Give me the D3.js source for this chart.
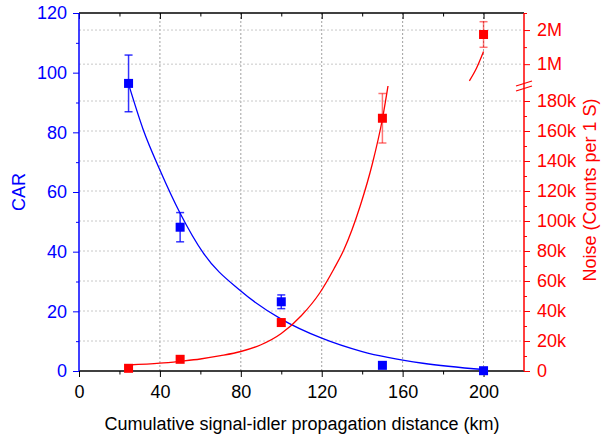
<!DOCTYPE html>
<html>
<head>
<meta charset="utf-8">
<script src="https://cdn.jsdelivr.net/npm/d3@7"></script>
<style>
  body { margin: 0; background: #fff; }
  svg { font-family: "Liberation Sans", Arial, sans-serif; }
</style>
</head>
<body>
<div id="chart"></div>
<script>
// measured points
const distance = [24.5, 50, 100, 150, 200];
const carValues = [96.4, 48.2, 23.2, 1.9, 0.1];
const carErrors = [9.5, 4.9, 2.3, 0, 0];
const noiseValues = [1800, 7800, 32300, 168500, 1870000];
const noiseErrors = [0, 0, 0, 16500, 375000];

// fit curves
const carFitX = [24.4, 31.8, 40, 50, 61.5, 80, 100, 120, 140, 170, 200];
const carFitY = [96.4, 80.8, 67.4, 52.9, 39.5, 26.8, 17.4, 11.0, 6.5, 2.6, 0.5];
const noiseFitX = [24.4, 40, 50, 60, 70, 80, 90, 100, 110, 119, 126, 131, 139, 145, 150, 153];
const noiseFitY = [4000, 5200, 6500, 8000, 10200, 13000, 17500, 25000, 37000, 52000, 68000, 81000, 110000, 138000, 168000, 192000];
const noiseFitUpperX = [193, 196.5, 200];
const noiseFitUpperY = [510000, 880000, 1370000];

// ticks
const xTicks = [0, 40, 80, 120, 160, 200];
const xMinor = [20, 60, 100, 140, 180];
const carTicks = [0, 20, 40, 60, 80, 100, 120];
const carMinor = [10, 30, 50, 70, 90, 110];
const noiseLowTicks = [0, 20000, 40000, 60000, 80000, 100000, 120000, 140000, 160000, 180000];
const noiseLowMinor = [10000, 30000, 50000, 70000, 90000, 110000, 130000, 150000, 170000];
const noiseHighTicks = [1000000, 2000000];
const noiseHighMinor = [1500000, 2500000];

const width = 602, height = 440;
const pLeft = 79, pRight = 524, pTop = 13, pBottom = 371, breakY = 86;
const blue = '#0000ff', red = '#ff0000';
const fontSize = '18px';

const svg = d3.select('#chart').append('svg')
    .attr('width', width)
    .attr('height', height);

const x = d3.scaleLinear().domain([0, 220]).range([pLeft, pRight]);
const yCar = d3.scaleLinear().domain([0, 120]).range([pBottom, pTop]);
const yLow = d3.scaleLinear().domain([0, 190000]).range([pBottom, breakY]);
const yHigh = d3.scaleLinear().domain([360000, 2500000]).range([breakY, pTop]);
const yNoise = v => v <= 190000 ? yLow(v) : yHigh(v);

// grid
svg.append('g').selectAll('line')
    .data(xTicks.slice(1))
    .enter().append('line')
    .attr('x1', d => x(d)).attr('x2', d => x(d))
    .attr('y1', pTop).attr('y2', pBottom)
    .attr('stroke', '#a0a0a0')
    .attr('stroke-dasharray', '2,2');

svg.append('g').selectAll('line')
    .data(noiseLowTicks.slice(1).map(yLow).concat(noiseHighTicks.map(yHigh)))
    .enter().append('line')
    .attr('x1', pLeft).attr('x2', pRight)
    .attr('y1', d => d).attr('y2', d => d)
    .attr('stroke', '#c8c8c8')
    .attr('stroke-dasharray', '2,2');

// fit lines
const clipLow = svg.append('clipPath').attr('id', 'clipLow');
clipLow.append('rect').attr('x', pLeft).attr('y', breakY).attr('width', pRight - pLeft).attr('height', pBottom - breakY);

svg.append('path')
    .datum(carFitX.map((d, i) => [d, carFitY[i]]))
    .attr('fill', 'none')
    .attr('stroke', blue)
    .attr('stroke-width', 1.3)
    .attr('d', d3.line().x(d => x(d[0])).y(d => yCar(d[1])).curve(d3.curveMonotoneX));

svg.append('path')
    .datum(noiseFitX.map((d, i) => [d, noiseFitY[i]]))
    .attr('clip-path', 'url(#clipLow)')
    .attr('fill', 'none')
    .attr('stroke', red)
    .attr('stroke-width', 1.3)
    .attr('d', d3.line().x(d => x(d[0])).y(d => yLow(d[1])).curve(d3.curveMonotoneX));

svg.append('path')
    .datum(noiseFitUpperX.map((d, i) => [d, noiseFitUpperY[i]]))
    .attr('fill', 'none')
    .attr('stroke', red)
    .attr('stroke-width', 1.3)
    .attr('d', d3.line().x(d => x(d[0])).y(d => yHigh(d[1])).curve(d3.curveMonotoneX));

// error bars
function errorBars(vals, errs, yf, color, op) {
    const g = svg.append('g')
        .attr('stroke', color)
        .attr('stroke-width', 1.5)
        .attr('stroke-opacity', op);
    vals.forEach((v, i) => {
        if (!errs[i]) return;
        const cx = x(distance[i]);
        const y1 = yf(v + errs[i]), y2 = yf(v - errs[i]);
        g.append('line').attr('x1', cx).attr('x2', cx).attr('y1', y1).attr('y2', y2);
        g.append('line').attr('x1', cx - 4).attr('x2', cx + 4).attr('y1', y1).attr('y2', y1);
        g.append('line').attr('x1', cx - 4).attr('x2', cx + 4).attr('y1', y2).attr('y2', y2);
    });
}
errorBars(carValues, carErrors, yCar, blue, 0.8);
errorBars(noiseValues, noiseErrors, yNoise, red, 0.55);

// axes
function axisStyle(g, color) {
    g.select('.domain').remove();
    g.selectAll('line').attr('stroke', color);
    g.selectAll('text').attr('fill', color).style('font-size', fontSize);
}

svg.append('g').attr('transform', `translate(0,${pBottom})`)
    .call(d3.axisBottom(x).tickValues(xTicks).tickSize(6).tickPadding(8.5))
    .call(g => axisStyle(g, '#000'));
svg.append('g').attr('transform', `translate(0,${pBottom})`)
    .call(d3.axisBottom(x).tickValues(xMinor).tickSize(3.5).tickFormat(''))
    .call(g => axisStyle(g, '#000'));
svg.append('g').attr('transform', `translate(0,${pTop})`)
    .call(d3.axisTop(x).tickValues(xTicks).tickSize(-6).tickFormat(''))
    .call(g => axisStyle(g, '#000'));
svg.append('g').attr('transform', `translate(0,${pTop})`)
    .call(d3.axisTop(x).tickValues(xMinor).tickSize(-3.5).tickFormat(''))
    .call(g => axisStyle(g, '#000'));

svg.append('g').attr('transform', `translate(${pLeft},0)`)
    .call(d3.axisLeft(yCar).tickValues(carTicks).tickSize(6).tickPadding(6))
    .call(g => axisStyle(g, blue));
svg.append('g').attr('transform', `translate(${pLeft},0)`)
    .call(d3.axisLeft(yCar).tickValues(carMinor).tickSize(3).tickFormat(''))
    .call(g => axisStyle(g, blue));

const kFmt = d => d === 0 ? '0' : (d / 1000) + 'k';
const mFmt = d => (d / 1000000) + 'M';
svg.append('g').attr('transform', `translate(${pRight},0)`)
    .call(d3.axisRight(yLow).tickValues(noiseLowTicks).tickSize(6).tickPadding(7).tickFormat(kFmt))
    .call(g => axisStyle(g, red));
svg.append('g').attr('transform', `translate(${pRight},0)`)
    .call(d3.axisRight(yLow).tickValues(noiseLowMinor).tickSize(3).tickFormat(''))
    .call(g => axisStyle(g, red));
svg.append('g').attr('transform', `translate(${pRight},0)`)
    .call(d3.axisRight(yHigh).tickValues(noiseHighTicks).tickSize(6).tickPadding(7).tickFormat(mFmt))
    .call(g => axisStyle(g, red));
svg.append('g').attr('transform', `translate(${pRight},0)`)
    .call(d3.axisRight(yHigh).tickValues(noiseHighMinor).tickSize(3).tickFormat(''))
    .call(g => axisStyle(g, red));

// axis lines
svg.append('line').attr('x1', pLeft).attr('x2', pRight).attr('y1', pBottom).attr('y2', pBottom)
    .attr('stroke', '#000').attr('stroke-width', 1.5);
svg.append('line').attr('x1', pLeft).attr('x2', pRight).attr('y1', pTop).attr('y2', pTop)
    .attr('stroke', '#000').attr('stroke-width', 1.5);
svg.append('line').attr('x1', pLeft).attr('x2', pLeft).attr('y1', pTop).attr('y2', pBottom)
    .attr('stroke', blue).attr('stroke-width', 1.5);
svg.append('line').attr('x1', pRight).attr('x2', pRight).attr('y1', pTop).attr('y2', pBottom)
    .attr('stroke', red).attr('stroke-width', 1.5);

// axis break marks
[-2.5, 2.5].forEach(off => {
    svg.append('line')
        .attr('x1', pRight - 8).attr('y1', breakY + off + 2.5)
        .attr('x2', pRight + 8).attr('y2', breakY + off - 2.5)
        .attr('stroke', red).attr('stroke-width', 1.3);
});

// markers
svg.append('g').selectAll('rect')
    .data(noiseValues)
    .enter().append('rect')
    .attr('x', (d, i) => x(distance[i]) - 4.5)
    .attr('y', d => yNoise(d) - 4.5)
    .attr('width', 9).attr('height', 9)
    .attr('fill', red);

svg.append('g').selectAll('rect')
    .data(carValues)
    .enter().append('rect')
    .attr('x', (d, i) => x(distance[i]) - 4.5)
    .attr('y', d => yCar(d) - 4.5)
    .attr('width', 9).attr('height', 9)
    .attr('fill', blue);

// titles
svg.append('text')
    .attr('x', 302)
    .attr('y', 430)
    .attr('text-anchor', 'middle')
    .style('font-size', fontSize)
    .text('Cumulative signal-idler propagation distance (km)');

svg.append('text')
    .attr('transform', 'translate(25,192) rotate(-90)')
    .attr('text-anchor', 'middle')
    .attr('fill', blue)
    .style('font-size', fontSize)
    .text('CAR');

svg.append('text')
    .attr('transform', 'translate(596,190) rotate(-90)')
    .attr('text-anchor', 'middle')
    .attr('fill', red)
    .style('font-size', fontSize)
    .text('Noise (Counts per 1 S)');
</script>
</body>
</html>
